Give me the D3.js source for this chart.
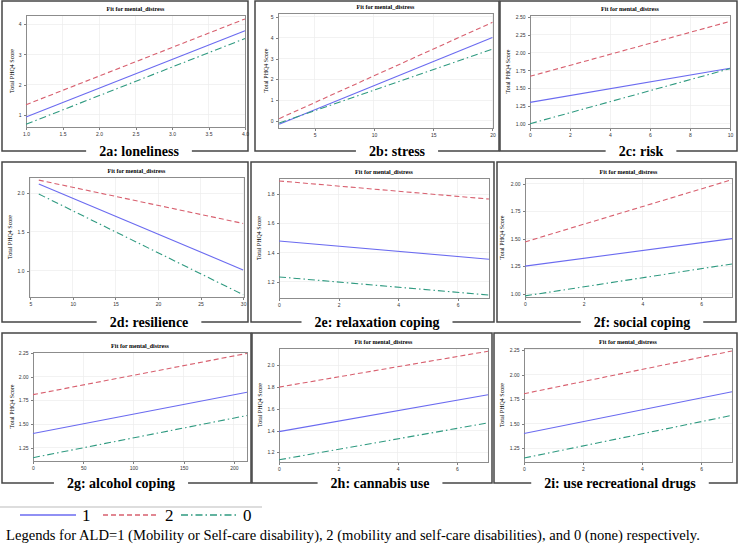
<!DOCTYPE html>
<meta charset="utf-8">
<style>

body {
  margin: 0;
  background: #fff;
}

svg {
  display: block;
  font-family: "Liberation Serif", "DejaVu Serif", serif;
}

.axis path,
.axis line {
  fill: none;
  stroke: #808080;
  shape-rendering: crispEdges;
}

.axis text {
  font-size: 5px;
  fill: #333;
}

.grid line {
  stroke: #ececec;
  stroke-width: 0.7;
  shape-rendering: crispEdges;
}

.frame {
  fill: none;
  stroke: #454545;
  stroke-width: 1.5;
}

.plotbox {
  fill: none;
  stroke: #8c8c8c;
  shape-rendering: crispEdges;
}

.title {
  font-size: 6px;
  font-weight: bold;
  text-anchor: middle;
}

.ylab {
  font-size: 6px;
  text-anchor: middle;
}

.plabel {
  font-size: 14px;
  font-weight: bold;
  text-anchor: middle;
}

</style>
<body>
<script src="https://d3js.org/d3.v7.min.js"></script>
<script>

// ---- data ----
var panelCodes = ["2a", "2b", "2c", "2d", "2e", "2f", "2g", "2h", "2i"];
var panelNames = ["loneliness", "stress", "risk", "resilience", "relaxation coping",
                  "social coping", "alcohol coping", "cannabis use", "use recreational drugs"];
var groups = ["1", "2", "0"];

var xTickLabels = [
  ["1.0", "1.5", "2.0", "2.5", "3.0", "3.5", "4.0"],
  ["5", "10", "15", "20"],
  ["0", "2", "4", "6", "8", "10"],
  ["5", "10", "15", "20", "25", "30"],
  ["0", "2", "4", "6"],
  ["0", "2", "4", "6"],
  ["0", "50", "100", "150", "200"],
  ["0", "2", "4", "6"],
  ["0", "2", "4", "6"]
];
var yTickLabels = [
  ["1", "2", "3", "4"],
  ["0", "1", "2", "3", "4", "5"],
  ["1.00", "1.25", "1.50", "1.75", "2.00", "2.25", "2.50"],
  ["1.0", "1.5", "2.0"],
  ["1.2", "1.4", "1.6", "1.8"],
  ["1.00", "1.25", "1.50", "1.75", "2.00"],
  ["1.25", "1.50", "1.75", "2.00", "2.25"],
  ["1.2", "1.4", "1.6", "1.8", "2.0"],
  ["1.25", "1.50", "1.75", "2.00", "2.25"]
];

// axis extents
var xExtents = [[1, 4], [1.9, 20.05], [0, 10], [4.85, 30.1], [0, 7.05], [0, 7.05], [0, 213], [0, 7.05], [0, 7.05]];
var yExtents = [[0.59, 4.31], [-0.34, 5.19], [0.94, 2.53], [0.66, 2.21], [1.09, 1.91], [0.97, 2.05], [1.11, 2.26], [1.11, 2.16], [1.11, 2.27]];

// x at which fitted lines start / end
var fitX = [[1, 4], [2, 20], [0, 10], [6, 30], [0, 7.05], [0, 7.05], [0, 213], [0, 7.05], [0, 7.05]];
// fitted Total PHQ4 score at start / end, per ALD group
var fitALD1 = [[0.92, 3.79], [-0.16, 4.01], [1.30, 1.78], [2.12, 1.01], [1.48, 1.355], [1.25, 1.50], [1.40, 1.835], [1.39, 1.73], [1.40, 1.825]];
var fitALD2 = [[1.33, 4.18], [0.11, 4.74], [1.667, 2.44], [2.17, 1.61], [1.89, 1.766], [1.47, 2.035], [1.81, 2.245], [1.80, 2.13], [1.805, 2.24]];
var fitALD0 = [[0.68, 3.53], [-0.10, 3.45], [1.00, 1.775], [1.99, 0.69], [1.234, 1.11], [0.98, 1.27], [1.145, 1.59], [1.13, 1.47], [1.15, 1.585]];

// ---- layout (pixel boxes of each pasted panel) ----
var frames = [[2, 248, 1, 151], [255, 499, 1, 151], [500, 737, 1, 151],
              [2, 248, 162, 322], [251, 494, 162, 322], [497, 736, 162, 322],
              [2, 251, 333, 483], [252, 492, 333, 483], [494, 737, 333, 483]];
var plots = [[26, 245, 15, 127], [278, 493, 13, 128], [530, 730, 15, 128],
             [29, 244, 177, 297], [279, 489, 178, 298], [525, 732, 178, 297],
             [33, 247, 352, 461], [279, 488, 348, 462], [524, 732, 348, 462]];
var labelX = [139, 397, 641, 149, 377, 642, 121, 380, 620];
var ylabX = [12, 266, 508, 10, 259, 502, 12, 260, 502];

var color = d3.scaleOrdinal().domain(groups).range(["#6b6bf0", "#d8606f", "#2f9a80"]);
var dash = d3.scaleOrdinal().domain(groups).range(["none", "5,3", "7,3,1.5,3"]);
var fits = {"1": fitALD1, "2": fitALD2, "0": fitALD0};

var svg = d3.select("body").append("svg")
            .attr("width", 738)
            .attr("height", 546);

panelCodes.forEach(function(code, i) {
  var f = frames[i], p = plots[i];
  var g = svg.append("g").attr("class", "panel");

  var x = d3.scaleLinear().domain(xExtents[i]).range([p[0], p[1]]);
  var y = d3.scaleLinear().domain(yExtents[i]).range([p[3], p[2]]);
  var xt = xTickLabels[i].map(Number);
  var yt = yTickLabels[i].map(Number);

  // outer frame of the pasted panel
  g.append("rect")
   .attr("class", "frame")
   .attr("x", f[0]).attr("y", f[2])
   .attr("width", f[1] - f[0]).attr("height", f[3] - f[2]);

  // faint grid
  var grid = g.append("g").attr("class", "grid");
  grid.selectAll(".gx").data(xt).enter().append("line")
      .attr("x1", x).attr("x2", x)
      .attr("y1", p[2]).attr("y2", p[3]);
  grid.selectAll(".gy").data(yt).enter().append("line")
      .attr("x1", p[0]).attr("x2", p[1])
      .attr("y1", y).attr("y2", y);

  // axes
  g.append("g")
   .attr("class", "axis")
   .attr("transform", "translate(0," + p[3] + ")")
   .call(d3.axisBottom(x).tickValues(xt).tickSize(2.5).tickPadding(3)
           .tickFormat(function(d, k) { return xTickLabels[i][k]; }))
   .call(function(s) { s.select(".domain").remove(); });

  g.append("g")
   .attr("class", "axis")
   .attr("transform", "translate(" + p[0] + ",0)")
   .call(d3.axisLeft(y).tickValues(yt).tickSize(2.5).tickPadding(2)
           .tickFormat(function(d, k) { return yTickLabels[i][k]; }))
   .call(function(s) { s.select(".domain").remove(); });

  g.append("rect")
   .attr("class", "plotbox")
   .attr("x", p[0]).attr("y", p[2])
   .attr("width", p[1] - p[0]).attr("height", p[3] - p[2]);

  // fitted lines, one per ALD group
  var line = d3.line()
               .x(function(d) { return x(d[0]); })
               .y(function(d) { return y(d[1]); });
  groups.forEach(function(gr) {
    var v = fits[gr][i];
    g.append("path")
     .datum([[fitX[i][0], v[0]], [fitX[i][1], v[1]]])
     .attr("d", line)
     .attr("fill", "none")
     .attr("stroke", color(gr))
     .attr("stroke-width", 1.1)
     .attr("stroke-dasharray", dash(gr));
  });

  g.append("text")
   .attr("class", "title")
   .attr("x", (p[0] + p[1]) / 2)
   .attr("y", p[2] - 4)
   .text("Fit for mental_distress");

  g.append("text")
   .attr("class", "ylab")
   .attr("transform", "translate(" + (ylabX[i] + 2) + "," + ((p[2] + p[3]) / 2) + ") rotate(-90)")
   .text("Total PHQ4 Score");

  // panel caption sitting on the frame's bottom edge
  var bg = g.append("rect").attr("fill", "#fff");
  var lab = g.append("text")
             .attr("class", "plabel")
             .attr("x", labelX[i])
             .attr("y", f[3] + 5)
             .text(code + ": " + panelNames[i]);
  var w = lab.node().getComputedTextLength();
  bg.attr("x", labelX[i] - w / 2 - 13)
    .attr("y", f[3] - 4)
    .attr("width", w + 26)
    .attr("height", 8);
});

// ---- legend ----
svg.append("line")
   .attr("x1", 0).attr("x2", 262)
   .attr("y1", 507).attr("y2", 507)
   .attr("stroke", "#aaa").attr("stroke-width", 0.8);

var legendX = d3.scaleOrdinal().domain(groups).range([20, 103, 181]);
var legend = svg.selectAll(".legend")
                .data(groups)
                .enter().append("g")
                .attr("class", "legend")
                .attr("transform", function(d) { return "translate(" + legendX(d) + ",515)"; });
legend.append("line")
      .attr("x1", 0).attr("x2", 56)
      .attr("stroke", color)
      .attr("stroke-width", 1.4)
      .attr("stroke-dasharray", dash);
legend.append("text")
      .attr("x", 62)
      .attr("y", 6)
      .style("font-size", "17px")
      .text(function(d) { return d; });

svg.append("text")
   .attr("x", 6)
   .attr("y", 540)
   .style("font-size", "14.6px")
   .text("Legends for ALD=1 (Mobility or Self-care disability), 2 (mobility and self-care disabilities), and 0 (none) respectively.");

</script>
